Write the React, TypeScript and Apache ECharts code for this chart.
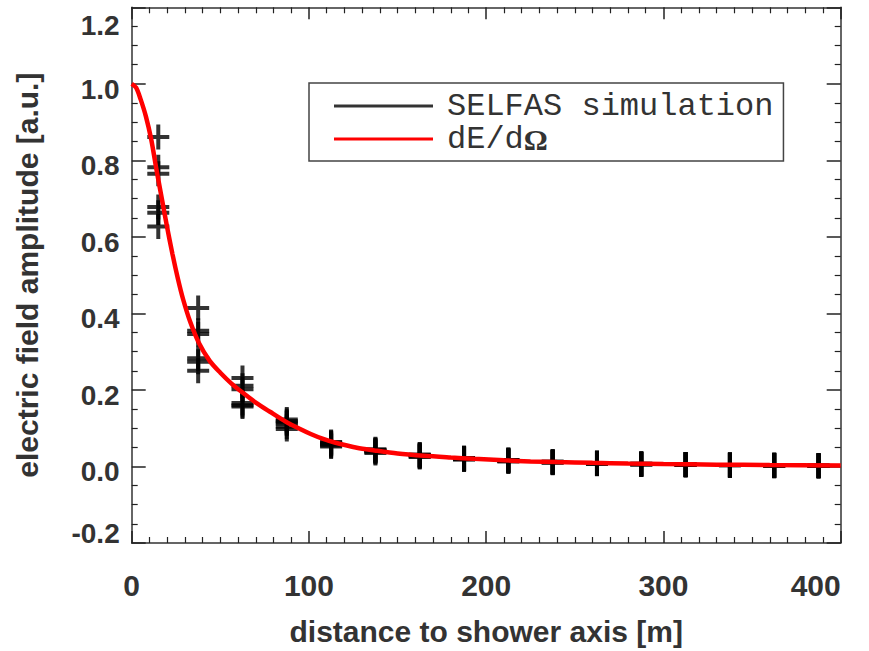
import React, { useEffect, useRef } from "react";
import * as echarts from "echarts";

// ---- data ----
const simDistances = [15, 37.5, 62.5, 87.5, 112.5, 137.5, 162.5, 187.5, 212.5, 237.5, 262.5, 287.5, 312.5, 337.5, 362.5, 387.5];
const simAmplitudes = [
  [0.861, 0.782, 0.765, 0.678, 0.663, 0.627],
  [0.414, 0.355, 0.346, 0.283, 0.274, 0.25],
  [0.231, 0.211, 0.202, 0.166, 0.16, 0.157],
  [0.123, 0.119, 0.112, 0.104, 0.098, 0.115],
  [0.064, 0.06, 0.055, 0.052, 0.058, 0.062],
  [0.045, 0.042, 0.038, 0.035, 0.04, 0.043],
  [0.031, 0.029, 0.026, 0.025, 0.028, 0.03],
  [0.022, 0.021, 0.019, 0.018, 0.02, 0.021],
  [0.017, 0.016, 0.014, 0.013, 0.015, 0.016],
  [0.013, 0.012, 0.011, 0.01, 0.012, 0.011],
  [0.009, 0.008, 0.008, 0.007, 0.009, 0.008],
  [0.007, 0.006, 0.006, 0.005, 0.006, 0.007],
  [0.005, 0.005, 0.004, 0.004, 0.005, 0.005],
  [0.004, 0.004, 0.003, 0.003, 0.004, 0.004],
  [0.003, 0.003, 0.002, 0.002, 0.003, 0.003],
  [0.002, 0.002, 0.002, 0.002, 0.002, 0.002],
];
const curveX = [0, 2.5, 5, 8, 11, 14, 17, 20, 23, 26, 29, 33, 38, 44, 50, 56, 62, 70, 78, 87, 95, 101, 108, 115, 127, 137, 150, 165, 180, 193, 210, 225, 240, 260, 280, 300, 330, 360, 400];
const curveY = [1.0, 0.99, 0.96, 0.915, 0.855, 0.775, 0.7, 0.625, 0.555, 0.492, 0.437, 0.378, 0.322, 0.276, 0.245, 0.218, 0.195, 0.167, 0.143, 0.117, 0.098, 0.085, 0.072, 0.062, 0.049, 0.042, 0.034, 0.028, 0.0235, 0.02, 0.016, 0.0133, 0.0115, 0.0095, 0.0078, 0.0063, 0.0048, 0.0037, 0.0026];
const seriesNames = ["SELFAS simulation", "dE/d\u03A9"];
const xTitle = "distance to shower axis [m]";
const yTitle = "electric field amplitude [a.u.]";

const PLUS = "path://M9,0H13V10.5H22V14.5H13V25H9V14.5H0V10.5H9Z";
const LBL_FONT = "'Liberation Sans', Arial, Helvetica, sans-serif";
const TXT = "#333";

export default function App() {
  const ref = useRef<HTMLDivElement>(null);
  useEffect(() => {
    if (!ref.current) return;
    const chart = echarts.init(ref.current, undefined, { renderer: "svg" });
    const simData: number[][] = [];
    simDistances.forEach((d, i) => simAmplitudes[i].forEach((a) => simData.push([d, a])));
    const curveData = curveX.map((x, i) => [x, curveY[i]]);

    const axisLine = { show: true, onZero: false, lineStyle: { color: "#333", width: 1.5 } };
    const xCommon = {
      type: "value" as const,
      min: 0,
      max: 400,
      interval: 100,
      splitLine: { show: false },
      axisLine,
      axisTick: { show: true, inside: true, length: 12, lineStyle: { color: "#222", width: 1.5 } },
      minorTick: { show: true, splitNumber: 10, length: 6, lineStyle: { color: "#222", width: 1.2 } },
    };
    const yCommon = {
      type: "value" as const,
      min: -0.2,
      max: 1.2,
      interval: 0.2,
      splitLine: { show: false },
      axisLine,
      axisTick: { show: true, inside: true, length: 14, lineStyle: { color: "#222", width: 1.5 } },
      minorTick: { show: true, splitNumber: 4, length: 6, lineStyle: { color: "#222", width: 1.2 } },
    };
    const xLbl = { fontSize: 30, fontWeight: "bold", fontFamily: LBL_FONT, color: TXT };
    const yLbl = { fontSize: 28, fontWeight: "bold", fontFamily: LBL_FONT, color: TXT };
    const titleStyle = { fontSize: 30, fontWeight: "bold", fontFamily: LBL_FONT, color: TXT };

    chart.setOption({
      animation: false,
      backgroundColor: "#fff",
      grid: { left: 131.7, right: 28.3, top: 7.3, bottom: 105.7, containLabel: false },
      legend: {
        left: 309,
        top: 83,
        orient: "vertical",
        icon: "rect",
        itemWidth: 99,
        itemHeight: 3,
        itemGap: 1,
        padding: [7, 10, 6, 25],
        borderColor: "#444",
        borderWidth: 1.5,
        backgroundColor: "#fff",
        data: seriesNames,
        formatter: (name: string) =>
          name === seriesNames[1] ? "{a|dE/d}{o|\u03A9}" : "{a|" + name + "}",
        textStyle: {
          color: TXT,
          rich: {
            a: { fontFamily: "'Liberation Mono', 'DejaVu Sans Mono', monospace", fontSize: 32, lineHeight: 26, color: TXT, padding: [0, 0, 0, 9] },
            o: { fontFamily: "'Liberation Serif', serif", fontWeight: "bold", fontSize: 30, lineHeight: 26, color: TXT },
          },
        },
      },
      xAxis: [
        {
          ...xCommon,
          position: "bottom",
          name: xTitle,
          nameLocation: "middle",
          nameGap: 73,
          nameTextStyle: { ...titleStyle },
          axisLabel: { show: true, margin: 27, ...xLbl, showMinLabel: true, showMaxLabel: true, alignMaxLabel: "right" },
        },
        { ...xCommon, position: "top", axisLabel: { show: false } },
      ],
      yAxis: [
        {
          ...yCommon,
          position: "left",
          name: yTitle,
          nameLocation: "middle",
          nameRotate: 90,
          nameGap: 89,
          nameTextStyle: { ...titleStyle },
          axisLabel: {
            show: true,
            margin: 12,
            showMinLabel: true,
            showMaxLabel: true,
            formatter: (v: number) => {
              const s = v.toFixed(1);
              if (Math.abs(v - 1.2) < 1e-6) return "{t|" + s + "}";
              if (Math.abs(v + 0.2) < 1e-6) return "{b|" + s + "}";
              return "{n|" + s + "}";
            },
            rich: {
              n: { ...yLbl, padding: [11, 0, 0, 0] },
              t: { ...yLbl, padding: [37, 0, 0, 0] },
              b: { ...yLbl, padding: [0, 0, 20, 0] },
            },
          },
        },
        { ...yCommon, position: "right", axisLabel: { show: false } },
      ],
      series: [
        {
          name: seriesNames[0],
          type: "scatter",
          xAxisIndex: 0,
          yAxisIndex: 0,
          symbol: PLUS,
          symbolSize: [22, 25],
          itemStyle: { color: "#000" },
          data: simData,
          z: 2,
        },
        {
          name: seriesNames[1],
          type: "line",
          xAxisIndex: 0,
          yAxisIndex: 0,
          smooth: 0.3,
          symbol: "none",
          itemStyle: { color: "#ff0000" },
          lineStyle: { color: "#ff0000", width: 4.5 },
          data: curveData,
          z: 3,
        },
      ],
    });
    return () => chart.dispose();
  }, []);
  return <div ref={ref} style={{ position: "absolute", left: 0, top: 0, width: 869, height: 651 }} />;
}
